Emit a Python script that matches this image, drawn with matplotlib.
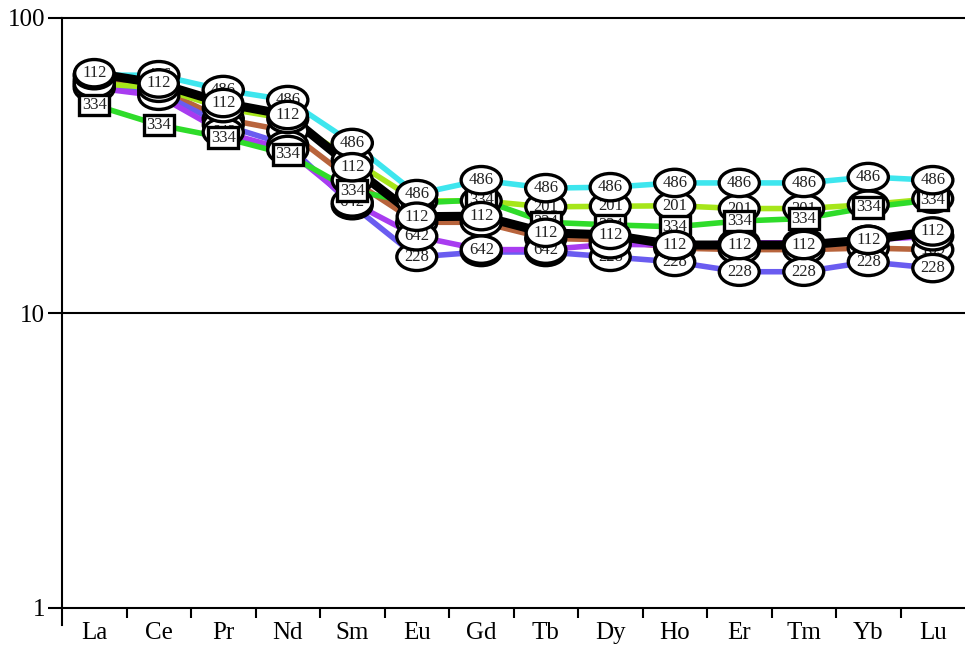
import matplotlib
matplotlib.use('Agg')
import matplotlib.pyplot as plt
from matplotlib.ticker import FixedLocator, NullLocator, FixedFormatter

elements = ['La', 'Ce', 'Pr', 'Nd', 'Sm', 'Eu', 'Gd', 'Tb', 'Dy', 'Ho', 'Er', 'Tm', 'Yb', 'Lu']

# chondrite-normalised values per sample
s169 = [61.5, 57.5, 45.5, 41.4, 28.2, 20.3, 20.3, 17.9, 17.7, 16.6, 16.4, 16.4, 16.6, 16.4]
s228 = [59.3, 56.0, 43.4, 37.1, 23.2, 15.5, 16.1, 16.1, 15.5, 14.9, 13.8, 13.8, 14.9, 14.2]
s642 = [58.0, 54.5, 41.0, 35.7, 23.7, 18.2, 16.4, 16.4, 17.1, 17.0, 17.3, 17.3, 17.7, 18.2]
s201 = [60.0, 58.0, 49.5, 45.5, 33.0, 24.0, 24.0, 22.9, 23.0, 23.1, 22.6, 22.6, 23.3, 24.4]
s334 = [50.7, 43.4, 39.3, 34.5, 26.0, 23.6, 24.2, 20.3, 19.9, 19.6, 20.5, 20.9, 22.8, 24.2]
s486 = [64.0, 64.0, 57.0, 52.7, 37.7, 25.3, 28.2, 26.5, 26.7, 27.6, 27.6, 27.6, 28.9, 28.2]
s112 = [65.0, 60.0, 51.5, 46.9, 31.2, 21.2, 21.3, 18.7, 18.4, 17.0, 17.0, 17.0, 17.7, 18.9]

# drawing order, bottom to top: (label, values, colour, line width, marker box)
samples = [
    ('169', s169, '#b8643c', 4.0, 'ellipse'),
    ('228', s228, '#6a5cf0', 4.0, 'ellipse'),
    ('642', s642, '#a83cf0', 4.0, 'ellipse'),
    ('201', s201, '#a6e61a', 4.0, 'ellipse'),
    ('334', s334, '#2fdc2a', 4.0, 'square'),
    ('486', s486, '#3ee6ee', 4.0, 'ellipse'),
    ('112', s112, '#000000', 6.5, 'ellipse'),
]

plt.rcParams['font.family'] = ['Liberation Serif', 'DejaVu Serif']

fig = plt.figure(figsize=(9.65, 6.45), dpi=100)
ax = fig.add_axes([62 / 965, 37 / 645, 903 / 965, 590 / 645])
ax.set_yscale('log')
ax.set_xlim(-0.5, 13.5)
ax.set_ylim(1, 100)

x = list(range(len(elements)))
for name, vals, col, lw, box in samples:
    ax.plot(x, vals, color=col, lw=lw, solid_joinstyle='round', zorder=2)

z = 3
for name, vals, col, lw, box in samples:
    for xi, v in zip(x, vals):
        pad = 0.1 if box == 'ellipse' else 0.14
        ax.text(xi, v, name, ha='center', va='center', fontsize=12, color='#222222', zorder=z,
                bbox=dict(boxstyle=f'{box},pad={pad}', fc='white', ec='black', lw=2.4))
    z += 1

ax.axhline(10, color='black', lw=1.5, zorder=1)

ax.spines['right'].set_visible(False)
for side in ['top', 'bottom', 'left']:
    ax.spines[side].set_linewidth(1.5)
ax.plot([0, 0], [-0.029, 0], transform=ax.transAxes, color='black', lw=1.5, clip_on=False)

ax.yaxis.set_major_locator(FixedLocator([1, 10, 100]))
ax.yaxis.set_major_formatter(FixedFormatter(['1', '10', '100']))
ax.yaxis.set_minor_locator(NullLocator())
ax.tick_params(axis='y', which='major', length=10, width=1.5, pad=2, labelsize=18)

ax.set_xticks(x)
ax.set_xticklabels(elements)
ax.set_xticks([i + 0.5 for i in range(len(elements) - 1)], minor=True)
ax.tick_params(axis='x', which='major', length=0, pad=10, labelsize=18)
ax.tick_params(axis='x', which='minor', length=7, width=1.5)

fig.savefig('out.png', dpi=100)
